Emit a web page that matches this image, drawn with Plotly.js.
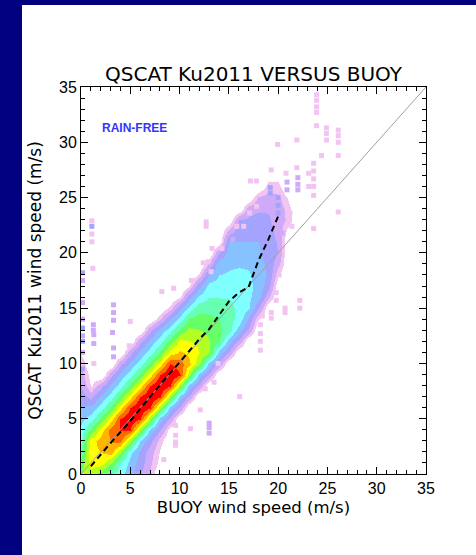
<!DOCTYPE html>
<html><head><meta charset="utf-8">
<script src="https://cdn.plot.ly/plotly-3.0.1.min.js"></script>
<style>html,body{margin:0;padding:0;background:#000080;}#chart{width:476px;height:555px;}</style>
</head><body><div id="chart"></div>
<script>
// Density grid nodes (m/s)
const densX = [0,1,2,3,4,5,6,7,8,9,10,11,12,13,14,15,16,17,18,19,20,21,22,23,24];
const densY = [0,1,2,3,4,5,6,7,8,9,10,11,12,13,14,15,16,17,18,19,20,21,22,23,24,25,26,27,28];
// density colour level read at each node; one row per QSCAT speed y, values for x = 0,1,2,... (rest empty)
const densRows = [
[7.5,8,7,5.8,5,3.8,2.6,1.5],
[7,9,9,7.5,5.5,4.2,3,1.8,0.6],
[6,9.2,9.5,10,7.8,4.8,3.3,2,0.8],
[5.3,9,10,10.5,11,7.8,4.4,2.8,1.2],
[4.8,6.8,9,11,11.5,11.5,7.8,4.2,2.5,0.5],
[4.2,5,6.8,9,11.5,12.5,11.5,7.8,4,2.3],
[3.6,3.8,5,6.8,9,11.5,12.8,11.5,7.8,4,2.3],
[3,2.2,3.8,5,6.8,9,11.5,12.8,11.5,7.8,4,2.3],
[2.5,0.8,2.2,3.8,5,6.8,9,11.5,12.8,11.5,7.8,4,2.3],
[2,0.5,0,2.2,3.8,5,6.8,9,11.5,12.8,11.5,7.8,4,2.3],
[1.5,0,0,0,2.2,3.8,5,6.8,9,11.5,11,9.7,7.8,4,2.3],
[0.8,0,0,0,0,2.2,3.8,5,6.8,9,9.7,9.3,8.5,7.7,4,2.3],
[0,0,0,0,0,0,2.2,3.8,5,6.8,8.7,8.5,8.3,7.5,6.7,4,2.3],
[0,0,0,0,0,0,0,2.2,3.8,5,6.8,7.7,7.5,7.3,6.7,6.0,4,2.3],
[0,0,0,0,0,0,0,0,1.5,3.45,4.8,6.7,6.8,6.8,6.5,5.8,5.2,3.2,1.0],
[0,0,0,0,0,0,0,0,0,1.15,3.3,4.8,6.2,6.1,6.0,5.8,5.2,4.6,2.7,0.25],
[0,0,0,0,0,0,0,0,0,0,0.8,3.1,4.7,5.45,5.45,5.45,5.15,4.65,4.0,1.8],
[0,0,0,0,0,0,0,0,0,0,0,0.75,3.2,4.9,4.94,4.94,5.0,4.76,4.16,3.0,0.3],
[0,0,0,0,0,0,0,0,0,0,0,0,1.0,3.6,4.5,4.6,4.8,4.6,4.0,3.4,1.0],
[0,0,0,0,0,0,0,0,0,0,0,0,0,1.6,4.1,4.34,4.34,4.34,3.86,3.26,1.9],
[0,0,0,0,0,0,0,0,0,0,0,0,0,0,2.5,3.92,3.92,3.92,3.68,3.08,2.48],
[0,0,0,0,0,0,0,0,0,0,0,0,0,0,0.2,3.5,3.5,3.5,3.5,2.9,2.4],
[0,0,0,0,0,0,0,0,0,0,0,0,0,0,0,1.9,3.08,3.08,3.08,2.82,2.22,0.6],
[0,0,0,0,0,0,0,0,0,0,0,0,0,0,0,0,2.66,2.66,2.76,2.64,2.04,1.44],
[0,0,0,0,0,0,0,0,0,0,0,0,0,0,0,0,0,2.2,2.4,2.4,2.2,1.2],
[0,0,0,0,0,0,0,0,0,0,0,0,0,0,0,0,0,0,1.8,2.0,1.8,0.8],
[0,0,0,0,0,0,0,0,0,0,0,0,0,0,0,0,0,0,0,1.2,1.2],
[0,0,0,0,0,0,0,0,0,0,0,0,0,0,0,0,0,0,0,0.6,0.6],
[]
];
// colour of each level 0..12
const levelColors = ["#ffffff","#f2c4f2","#cfaaf9","#a4a4ff","#86c2ff","#80ffff","#66ffb4","#66ff66","#b4ff22","#ffff00","#ffb400","#ff6a00","#ff0000"];
// level boundaries (upper edge of each level band)
const levelEdges = [0.9,1.6,2.5,3.5,4.5,5.5,6.5,7.5,8.5,9.5,10.5,11.5,12.8];

// Binned mean (dashed)
const meanX = [1,2,3,4,5,6,7,8,9,10,11,12,13,14,15,16,17,18,19,20];
const meanY = [0.7,1.8,2.8,3.8,4.8,5.9,7.0,8.0,9.1,10.1,11.2,12.2,13.1,14.4,15.6,16.4,16.9,19.3,21.2,23.3];
// 1:1 reference line
const oneX = [0,35];
const oneY = [0,35];

// sparse outlier cells
const pinkX = [1.1,1.1,1.2,1.1,12.7,12.7,13.3,14.3,12.4,12.9,13.2,23.9,23.9,23.9,23.9,23.9,24.9,24.9,24.9,26.1,26.1,26.1,21.9,19.95,24.4,26.1,19.3,20.8,21.9,23.6,23.6,23.6,23.6,23.1,23.1,17.2,17.8,23.6,26.1,23.6,17.8,17.1,16.5,15.8,21.2,21.4,20.1,22.2,22.2,20.7,20.7,19.8,19.8,19.3,19.3,18.2,18.2,18.2,18.2,18.4,16.1,12.1,13.5,12.6,11.1,9.6,9.6,9.6,9.6,8.4,13.9,8.2,9.4,11.2,5.0,1.3,4.9];
const pinkY = [21.7,21.0,18.6,22.9,22.4,22.8,20.4,20.4,19.1,19.2,18.3,34.3,33.8,33.2,32.7,31.5,31.3,30.8,30.2,31.1,30.6,30.0,30.2,29.8,28.8,28.8,27.5,27.2,27.7,28.1,27.4,26.7,26.0,27.2,26.0,26.5,26.5,25.2,23.7,22.2,24.2,23.6,22.4,22.4,23.6,22.4,18.0,15.7,15.0,15.0,14.6,16.4,15.7,14.6,14.1,13.5,12.7,12.0,11.2,14.3,7.0,5.8,8.3,7.7,4.1,4.4,3.5,2.9,2.6,1.3,10.0,16.5,16.8,17.5,13.8,10.0,11.6];
const lavX = [22.0,22.0,22.0,20.9,20.9,20.4,15.4,13.0,13.0,13.0,3.3,3.3,3.3,1.25,1.25,1.3,1.3,3.2,3.3,3.3,0.15,0.15,0.15,0.15,0.15];
const lavY = [26.8,26.2,25.7,26.4,25.7,21.8,21.2,4.6,4.2,3.7,15.3,14.6,13.9,13.5,13.0,12.6,11.8,12.8,11.4,10.6,11.0,12.5,14.0,15.5,17.5];
const blueX = [1.1,0.15,19.2,19.2,20.0,20.0,20.0,0.15,0.15,0.15];
const blueY = [22.4,18.2,25.9,25.4,25.0,24.3,23.6,9.5,12.0,13.2];

const ZMAX = 12.8;
const z = densRows.map(r => densX.map((_, i) => (i < r.length ? r[i] : 0)));
// stepped colour scale built from the level colours and edges
const cs = [];
let lo = 0;
levelColors.forEach((c, i) => {
  cs.push([lo / ZMAX, c]);
  cs.push([levelEdges[i] / ZMAX, c]);
  lo = levelEdges[i];
});
const FONT = 'Liberation Sans, Arial, sans-serif';
const TFONT = 'DejaVu Sans, Verdana, sans-serif';

const traces = [
  {type:'heatmap', x:densX, y:densY, z:z, zmin:0, zmax:ZMAX, colorscale:cs, zsmooth:'best', showscale:false, hoverinfo:'skip'},
  {type:'scatter', mode:'markers', x:pinkX, y:pinkY, marker:{symbol:'square', size:5, color:'#f2c4f2'}, hoverinfo:'skip'},
  {type:'scatter', mode:'markers', x:lavX, y:lavY, marker:{symbol:'square', size:5, color:'#cfaaf9'}, hoverinfo:'skip'},
  {type:'scatter', mode:'markers', x:blueX, y:blueY, marker:{symbol:'square', size:5, color:'#a4a4ff'}, hoverinfo:'skip'},
  {type:'scatter', mode:'lines', x:oneX, y:oneY, line:{color:'#a0a0a0', width:1}, hoverinfo:'skip'},
  {type:'scatter', mode:'lines', x:meanX, y:meanY, line:{color:'#000000', width:2, dash:'6px,4px'}, hoverinfo:'skip'}
];

function axis(title, size, standoff) {
  return {
    range:[0,35], tick0:0, dtick:5, ticks:'inside', ticklen:7, tickwidth:1, tickcolor:'#000',
    showline:true, linecolor:'#000', linewidth:1, mirror:'ticks', showgrid:false, zeroline:false,
    minor:{dtick:1, ticks:'inside', ticklen:4, tickwidth:1, tickcolor:'#000', showgrid:false},
    tickfont:{family:FONT, size:16, color:'#000'},
    title:{text:title, font:{family:TFONT, size:size, color:'#000'}, standoff:standoff},
    fixedrange:true, automargin:false
  };
}

const layout = {
  width:476, height:555,
  paper_bgcolor:'#000080', plot_bgcolor:'#ffffff',
  margin:{l:81, r:50, t:87, b:81, pad:0},
  showlegend:false,
  title:{text:'QSCAT Ku2011 VERSUS BUOY', font:{family:TFONT, size:20, color:'#000'}, x:0.5, xref:'paper', xanchor:'center', y:1, yref:'paper', yanchor:'bottom', pad:{b:6}},
  xaxis: axis('BUOY wind speed (m/s)', 16.5, 5),
  yaxis: axis('QSCAT Ku2011 wind speed (m/s)', 17, 13),
  shapes:[{type:'rect', xref:'paper', yref:'paper', x0:(22-81)/345, x1:(476-81)/345, y0:(474-555)/387, y1:(474-5)/387, fillcolor:'#ffffff', line:{width:0}, layer:'below'}],
  annotations:[{x:1.9, y:31.3, xref:'x', yref:'y', text:'<b>RAIN-FREE</b>', showarrow:false, xanchor:'left', yanchor:'middle', font:{family:FONT, size:12, color:'#3434ff'}}]
};

Plotly.newPlot('chart', traces, layout, {staticPlot:true, displayModeBar:false});
</script>
</body></html>
